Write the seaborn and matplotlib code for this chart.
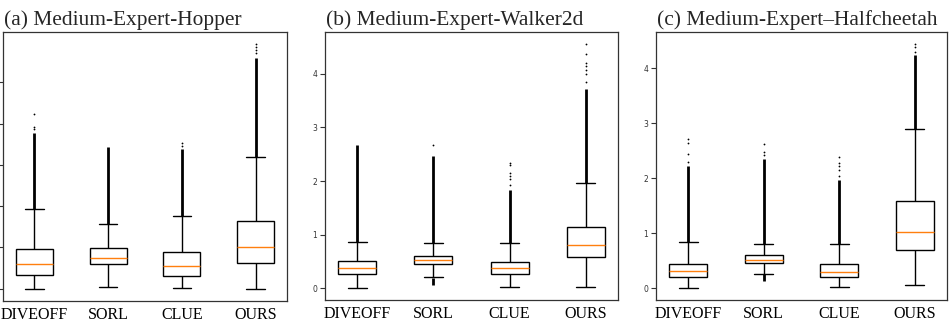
import numpy as np
import pandas as pd
import matplotlib
matplotlib.use("Agg")
import matplotlib.pyplot as plt
import seaborn as sns

sns.set_style("white")

methods = ["DIVEOFF", "SORL", "CLUE", "OURS"]
titles = ["(a) Medium-Expert-Hopper", "(b) Medium-Expert-Walker2d", "(c) Medium-Expert\u2013Halfcheetah"]

# Panel (a) Hopper: box statistics
hop_low = [0.00, 0.04, 0.02, 0.00]
hop_q1 = [0.33, 0.61, 0.30, 0.62]
hop_med = [0.59, 0.74, 0.55, 1.00]
hop_q3 = [0.97, 0.98, 0.89, 1.64]
hop_high = [1.93, 1.57, 1.75, 3.19]
hop_dense_top = [3.78, 3.44, 3.38, 5.59]
hop_sparse = [[3.87, 3.92, 4.22], [], [3.46, 3.54], [5.70, 5.78, 5.85, 5.92]]
hop_low_band = [None, None, None, None]

# Panel (b) Walker2d
wal_low = [0.01, 0.21, 0.02, 0.03]
wal_q1 = [0.26, 0.45, 0.27, 0.58]
wal_med = [0.37, 0.52, 0.38, 0.80]
wal_q3 = [0.51, 0.60, 0.49, 1.14]
wal_high = [0.87, 0.85, 0.84, 1.97]
wal_dense_top = [2.68, 2.47, 1.84, 3.71]
wal_sparse = [[], [2.67], [1.92, 2.03, 2.10, 2.15, 2.29, 2.33],
              [3.85, 4.00, 4.07, 4.15, 4.20, 4.37, 4.55]]
wal_low_band = [None, (0.07, 0.20), None, None]

# Panel (c) Halfcheetah
hc_low = [0.01, 0.27, 0.03, 0.07]
hc_q1 = [0.21, 0.47, 0.21, 0.69]
hc_med = [0.31, 0.52, 0.30, 1.03]
hc_q3 = [0.45, 0.60, 0.45, 1.58]
hc_high = [0.84, 0.80, 0.80, 2.90]
hc_dense_top = [2.22, 2.35, 1.97, 4.24]
hc_sparse = [[2.30, 2.45, 2.65, 2.72], [2.42, 2.48, 2.62], [2.05, 2.15, 2.22, 2.28, 2.38],
             [4.30, 4.38, 4.44]]
hc_low_band = [None, (0.14, 0.27), None, None]

panels = [
    (hop_low, hop_q1, hop_med, hop_q3, hop_high, hop_dense_top, hop_sparse, hop_low_band),
    (wal_low, wal_q1, wal_med, wal_q3, wal_high, wal_dense_top, wal_sparse, wal_low_band),
    (hc_low, hc_q1, hc_med, hc_q3, hc_high, hc_dense_top, hc_sparse, hc_low_band),
]

W, H = 950, 321
fig = plt.figure(figsize=(W / 100, H / 100), dpi=100)
boxes_px = [(3, 287, 32, 301), (325, 618, 32, 300), (656, 947, 32, 300)]

serif = ["Liberation Serif", "DejaVu Serif"]

for i, (pan, (l, r, t, b)) in enumerate(zip(panels, boxes_px)):
    lo, q1, med, q3, hi, dtop, sparse, lowband = pan
    ax = fig.add_axes([l / W, (H - b) / H, (r - l) / W, (b - t) / H])
    rows = []
    for m, a, bq, c, d, e in zip(methods, lo, q1, med, q3, hi):
        for v in (a, bq, c, d, e):
            rows.append({"method": m, "value": v})
    df = pd.DataFrame(rows)
    sns.boxplot(data=df, x="method", y="value", order=methods, ax=ax,
                whis=(0, 100), width=0.5, color="white", linecolor="black",
                linewidth=1.0, fliersize=0,
                medianprops={"color": "#ff7f0e", "linewidth": 1.0})
    # outliers
    for k, m in enumerate(methods):
        ax.vlines(k, hi[k], dtop[k], color="black", lw=2.0, zorder=3)
        if sparse[k]:
            ax.plot([k] * len(sparse[k]), sparse[k], "o", color="black", ms=1.3,
                    mec="none", zorder=3)
        if lowband[k] is not None:
            ax.vlines(k, lowband[k][0], lowband[k][1], color="black", lw=2.0, zorder=3)
    allv = lo + [v for s in sparse for v in s] + dtop + [lb[0] for lb in lowband if lb]
    vmin, vmax = min(allv), max(allv)
    pad = 0.05 * (vmax - vmin)
    ax.set_ylim(vmin - pad, vmax + pad)
    ax.set_xlabel("")
    ax.set_ylabel("")
    ax.set_yticks(range(0, int(vmax) + 1))
    if i == 0:
        # labels of the first panel fall outside the figure in the reference
        ax.set_yticklabels([])
    ax.tick_params(axis="y", left=True, length=3.5, width=0.8, labelsize=5.5,
                   colors="#333333", pad=2)
    ax.tick_params(axis="x", bottom=False, length=0, pad=4)
    for lab in ax.get_xticklabels():
        lab.set_fontfamily(serif)
        lab.set_fontsize(11.5)
        lab.set_color("black")
    for sp in ax.spines.values():
        sp.set_color("#333333")
        sp.set_linewidth(0.9)
    ax.set_title(titles[i], loc="left", fontfamily=serif, fontsize=15.4, pad=5, x=0.005)

fig.savefig("out.png", dpi=100)
